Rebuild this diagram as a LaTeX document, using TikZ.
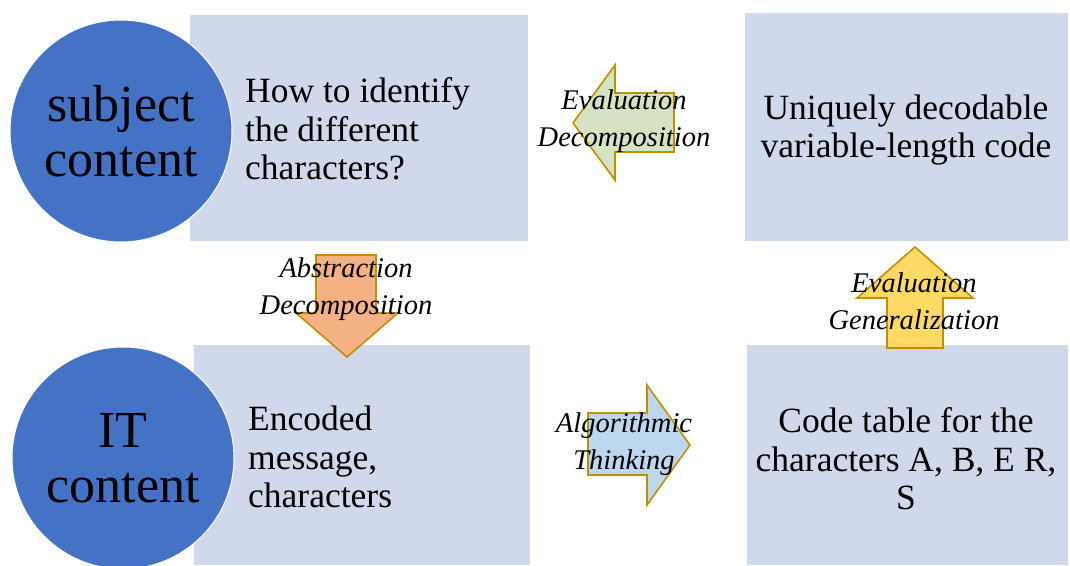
\documentclass[tikz,border=0pt]{standalone}
\usepackage{fontspec}
\setmainfont{Liberation Serif}
\definecolor{boxfill}{HTML}{D0D8EB}
\definecolor{circfill}{HTML}{4472C4}
\definecolor{arrline}{HTML}{BF9000}
\definecolor{agreen}{HTML}{D5E3C2}
\definecolor{aorange}{HTML}{F4B183}
\definecolor{ablue}{HTML}{BDD7EE}
\definecolor{ayellow}{HTML}{FFD966}
\tikzset{
  bx/.style={fill=boxfill, draw=none},
  circ/.style={circle, fill=circfill, draw=white, line width=1pt, minimum size=222pt, inner sep=0pt,
    align=center, font={\fontsize{52}{55}\selectfont}},
  boxtext/.style={align=left, inner sep=0pt, font={\fontsize{35.5}{38.5}\selectfont}},
  boxtextc/.style={align=center, inner sep=0pt, font={\fontsize{35.5}{38.5}\selectfont}},
  arr/.style={draw=arrline, line width=1.6pt, line join=miter},
  lbl/.style={align=center, inner sep=0pt, font={\fontsize{28.5}{37}\selectfont\itshape}},
}
\begin{document}
\begin{tikzpicture}[x=1pt, y=-1pt]
\useasboundingbox (0,0) rectangle (1070,565);
% boxes
\path[bx] (190,15) rectangle (528,241);
\path[bx] (745,13) rectangle (1068,241);
\path[bx] (194,345) rectangle (530,565);
\path[bx] (747,345) rectangle (1068,565);
% circles
\node[circ] (c1) at (121,131) {subject\\content};
\node[circ] (c2) at (123,458) {IT\\content};
% box texts
\node[boxtext, anchor=west] (t1) at (245,129) {How to identify\\the different\\characters?};
\node[boxtextc] (t2) at (906,130) {Uniquely decodable\\variable-length code};
\node[boxtext, anchor=west] (t3) at (248,457) {Encoded\\message,\\characters};
\node[boxtextc] (t4) at (906,459) {Code table for the\\characters A, B, E R,\\S};
% arrows
\path[arr, fill=agreen] (573,123) -- (615,65) -- (615,93) -- (674,93) -- (674,152) -- (615,152) -- (615,180) -- cycle;
\path[arr, fill=aorange] (347,357) -- (296,313) -- (316,313) -- (316,255) -- (376,255) -- (376,313) -- (398,313) -- cycle;
\path[arr, fill=ablue] (690,445) -- (647,385) -- (647,413) -- (588,413) -- (588,475) -- (647,475) -- (647,505) -- cycle;
\path[arr, fill=ayellow] (915,247) -- (973,298) -- (943,298) -- (943,348) -- (887,348) -- (887,298) -- (857,298) -- cycle;
% labels
\node[lbl] (l1) at (624,121) {Evaluation\\Decomposition};
\node[lbl] (l2) at (346,289) {Abstraction\\Decomposition};
\node[lbl] (l3) at (624,444) {Algorithmic\\Thinking};
\node[lbl] (l4) at (914,301) {Evaluation\\Generalization};
\end{tikzpicture}
\end{document}
